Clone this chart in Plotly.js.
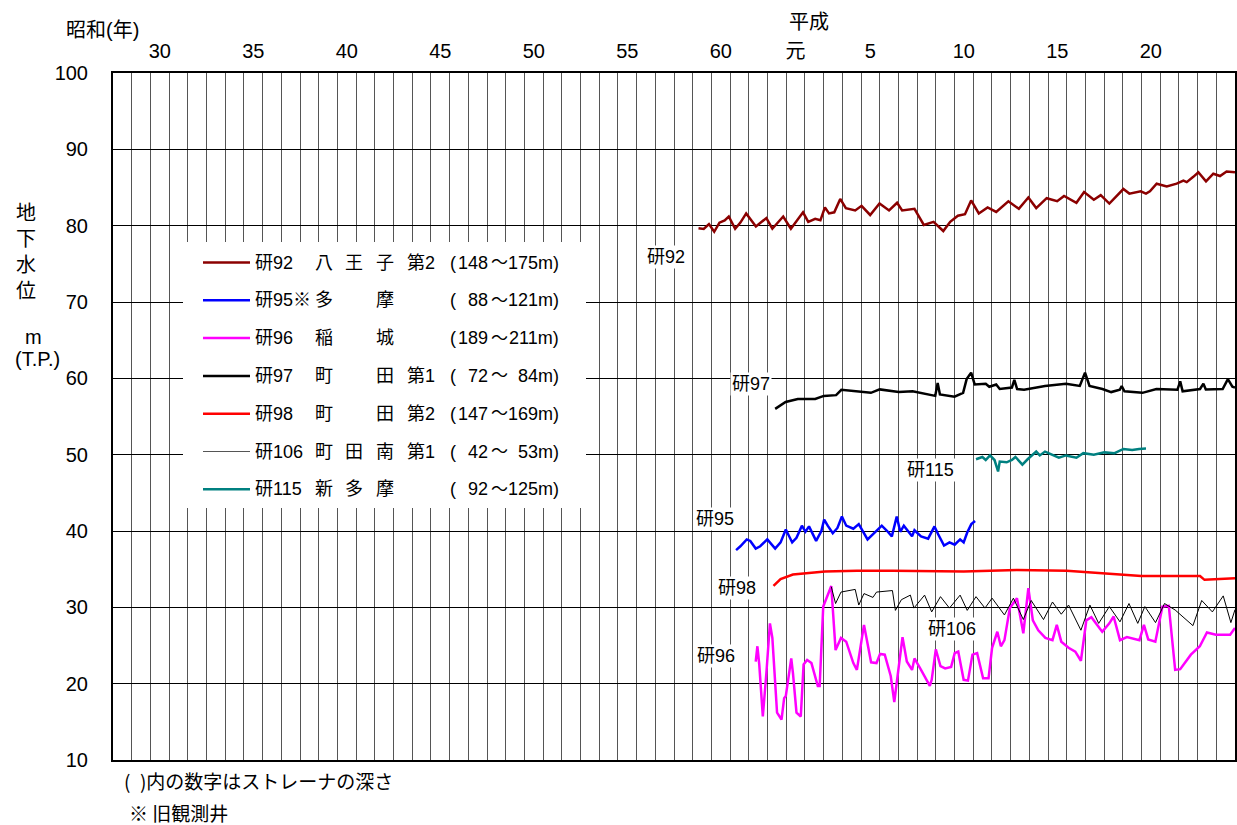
<!DOCTYPE html>
<html><head><meta charset="utf-8">
<script src="https://cdn.plot.ly/plotly-3.0.1.min.js"></script>
<style>html,body{margin:0;padding:0;background:#fff}#chart{width:1237px;height:825px}</style>
</head><body><div id="chart"></div>
<script>
// ---- tick labels (era years, label at band centre) ----
const tickYears = [1955.5,1960.5,1965.5,1970.5,1975.5,1980.5,1985.5,1989.5,1993.5,1998.5,2003.5,2008.5];
const tickText  = ['30','35','40','45','50','55','60','元','5','10','15','20'];

// ---- series data (decimal year, water level m T.P.) ----
const k92x = [1984.31,1984.59,1984.87,1985.15,1985.43,1985.71,1985.93,1986.27,1986.55,1986.86,1987.38,1987.94,1988.26,1988.84,1989.25,1989.9,1990.18,1990.55,1990.83,1991.07,1991.29,1991.57,1991.89,1992.19,1992.69,1993.03,1993.49,1993.99,1994.5,1994.93,1995.2,1995.86,1996.36,1996.88,1997.4,1997.77,1998.18,1998.56,1998.89,1999.3,1999.77,2000.23,2000.88,2001.44,2001.95,2002.37,2002.93,2003.49,2003.86,2004.52,2004.93,2005.45,2005.82,2006.28,2007.03,2007.35,2007.96,2008.24,2008.45,2008.81,2009.35,2009.88,2010.24,2010.42,2010.77,2011.04,2011.45,2011.84,2012.2,2012.55,2013.0];
const k92y = [79.65,79.56,80.2,79.2,80.4,80.7,81.2,79.6,80.4,81.6,79.9,81.0,79.6,81.2,79.6,81.75,80.5,80.9,80.7,82.4,81.6,81.75,83.5,82.3,82.0,82.6,81.4,82.9,82.0,83.0,82.0,82.2,80.1,80.5,79.3,80.5,81.3,81.5,83.3,81.6,82.4,81.8,83.2,82.2,83.7,82.3,83.6,83.2,83.9,83.0,84.4,83.4,84.0,82.9,84.8,84.2,84.5,84.2,84.5,85.5,85.15,85.5,85.9,85.7,86.4,87.0,85.8,86.8,86.5,87.1,87.0];

const k95x = [1986.32,1986.55,1986.89,1987.08,1987.37,1987.61,1987.99,1988.18,1988.41,1988.7,1988.98,1989.32,1989.55,1989.84,1990.03,1990.22,1990.6,1990.88,1991.03,1991.22,1991.49,1991.74,1991.98,1992.21,1992.59,1992.88,1993.35,1993.73,1994.11,1994.4,1994.65,1994.91,1995.1,1995.29,1995.73,1995.86,1996.21,1996.59,1996.93,1997.12,1997.44,1997.73,1998.01,1998.3,1998.49,1998.68,1998.9,1999.1];
const k95y = [37.5,38.0,38.9,38.7,37.7,38.0,38.9,38.4,37.7,38.5,40.2,38.5,39.1,40.7,39.9,40.6,38.7,40.0,41.5,40.7,39.7,40.4,41.9,40.7,40.3,40.9,38.9,39.8,40.7,40.0,39.3,41.9,39.9,40.7,39.3,40.1,39.3,39.0,40.6,39.6,38.1,38.5,38.2,38.9,38.5,39.8,40.9,41.3];

const k96x = [1987.37,1987.46,1987.56,1987.75,1987.94,1988.13,1988.26,1988.51,1988.75,1988.89,1988.98,1989.27,1989.36,1989.55,1989.78,1989.93,1990.12,1990.35,1990.69,1990.79,1990.98,1991.41,1991.64,1991.93,1992.21,1992.59,1992.78,1993.16,1993.54,1993.83,1994.02,1994.27,1994.59,1994.78,1995.22,1995.45,1995.73,1995.86,1996.21,1996.4,1996.68,1996.78,1997.0,1997.25,1997.5,1997.82,1998.01,1998.2,1998.49,1998.72,1998.96,1999.21,1999.53,1999.82,2000.01,2000.29,2000.48,2000.67,2000.96,2001.34,2001.56,2001.68,2001.95,2002.19,2002.48,2002.86,2003.24,2003.47,2003.71,2004.1,2004.46,2004.76,2005.05,2005.32,2005.9,2006.28,2006.51,2006.85,2007.22,2007.89,2008.13,2008.36,2008.74,2009.12,2009.46,2009.8,2010.07,2010.64,2011.12,2011.5,2011.98,2012.74,2013.0];
const k96y = [22.9,24.9,22.5,15.7,21.4,27.9,26.0,16.2,15.3,18.1,18.4,23.3,21.4,16.2,15.7,22.5,23.1,22.7,19.7,19.7,30.1,32.8,24.4,26.0,25.5,22.7,21.8,27.7,22.8,22.7,23.9,23.8,21.0,17.6,26.1,22.9,21.8,23.3,21.8,21.0,19.7,20.5,24.5,22.3,22.0,22.2,24.0,24.2,20.5,20.4,23.8,24.0,20.7,20.7,24.7,26.8,24.9,25.7,29.9,31.2,28.3,26.6,32.5,28.3,27.0,26.0,25.7,27.7,25.5,24.7,24.2,23.0,28.3,28.7,26.8,27.9,28.8,25.7,26.1,25.7,27.7,25.8,25.5,30.1,30.2,21.8,21.9,23.8,24.9,26.7,26.4,26.4,27.3];

const k97x = [1988.41,1988.69,1988.97,1989.62,1990.55,1991.01,1991.67,1991.95,1992.69,1993.53,1994.0,1995.02,1995.76,1996.69,1996.97,1997.1,1997.22,1998.0,1998.46,1998.65,1998.89,1999.08,1999.67,1999.86,2000.23,2000.42,2001.07,2001.2,2001.35,2001.72,2002.84,2003.96,2004.52,2004.7,2004.98,2005.22,2005.91,2006.38,2006.84,2006.94,2007.09,2008.05,2008.8,2009.92,2010.07,2010.2,2011.13,2011.31,2011.44,2012.34,2012.62,2012.86,2013.0];
const k97y = [56.0,56.4,56.9,57.3,57.3,57.7,57.8,58.5,58.3,58.1,58.55,58.2,58.3,57.8,57.7,59.4,57.9,57.6,58.1,59.9,60.75,59.2,59.3,58.9,59.2,58.6,58.8,59.8,58.6,58.5,59.0,59.3,59.1,59.0,60.75,59.0,58.6,58.2,58.5,59.0,58.3,58.1,58.6,58.5,59.6,58.3,58.6,59.3,58.55,58.6,59.9,58.9,58.8];

const k98x = [1988.32,1988.7,1989.36,1990.12,1991.07,1992.78,1994.68,1998.49,2001.34,2004.0,2006.09,2007.99,2011.13,2011.37,2013.0];
const k98y = [32.8,33.7,34.3,34.5,34.7,34.8,34.8,34.7,34.9,34.8,34.4,34.1,34.1,33.6,33.8];

const k106x = [1991.41,1991.64,1991.93,1992.69,1992.88,1993.16,1993.64,1993.83,1994.68,1994.84,1995.16,1995.64,1995.83,1996.4,1996.78,1997.25,1997.73,1998.3,1998.68,1999.15,1999.63,2000.01,2000.67,2001.15,2001.68,2002.1,2002.76,2003.24,2003.71,2004.1,2004.76,2005.24,2005.71,2006.28,2006.85,2007.33,2007.8,2008.18,2008.75,2009.23,2009.8,2010.75,2011.22,2011.79,2012.37,2012.78,2013.0];
const k106y = [32.7,30.5,32.0,32.35,30.3,31.8,31.3,32.0,32.2,29.6,31.0,31.6,29.9,31.6,29.4,31.4,29.9,31.6,29.6,31.4,29.9,31.2,29.0,31.2,28.4,30.9,28.4,30.7,29.1,30.3,27.0,30.3,27.9,30.1,28.1,30.5,27.9,30.1,28.0,30.5,29.65,27.6,30.9,29.4,31.5,28.0,29.7];

const k115x = [1999.15,1999.49,1999.67,1999.9,2000.14,2000.33,2000.42,2000.79,2001.07,2001.26,2001.63,2001.91,2002.37,2002.56,2002.84,2003.21,2003.58,2003.96,2004.52,2004.89,2005.45,2006.01,2006.56,2007.03,2007.5,2007.87,2008.24];
const k115y = [49.4,49.7,49.3,49.9,49.3,47.8,49.1,49.0,49.3,49.7,48.7,49.4,50.4,49.9,50.4,50.0,49.6,49.9,49.6,50.2,50.0,50.3,50.2,50.75,50.6,50.75,50.8];

// ---- series meta ----
const seriesNames  = ['研92','研95','研96','研97','研98','研106','研115'];
const seriesColors = ['#8b0000','#0000ff','#ff00ff','#000000','#ff0000','#000000','#008080'];
const seriesWidths = [2.5,2.5,2.5,2.5,2.5,1,2.5];
const seriesX = [k92x,k95x,k96x,k97x,k98x,k106x,k115x];
const seriesY = [k92y,k95y,k96y,k97y,k98y,k106y,k115y];

// ---- legend text columns ----
const legCode = ['研92','研95※','研96','研97','研98','研106','研115'];
const legC2   = ['八','多','稲','町','町','町','新'];
const legC3   = ['王','','','','','田','多'];
const legC4   = ['子','摩','城','田','田','南','摩'];
const legSub  = ['第2','','','第1','第2','第1',''];
const depthLo = ['148','88','189','72','147','42','92'];
const depthHi = ['175','121','211','84','169','53','125'];

// ---- in-plot series labels (year, level) ----
const lblText = ['研92','研97','研115','研95','研98','研106','研96'];
const lblX = [1982.57,1987.12,1996.69,1985.19,1986.37,1997.87,1985.24];
const lblY = [75.9,59.26,48.0,41.57,32.53,27.16,23.62];

const FONT = 'Liberation Sans, Arial, Noto Sans CJK JP, sans-serif';
const W = 1237, H = 825, L = 113, R = 2, T = 73, B = 65;
const PW = W - L - R, PH = H - T - B;
const px = v => (v - L) / PW;          // pixel x -> paper
const py = v => 1 - (v - T) / PH;      // pixel y -> paper

const traces = seriesNames.map((n, i) => ({
  type: 'scatter', mode: 'lines', name: n,
  x: seriesX[i], y: seriesY[i],
  line: {color: seriesColors[i], width: seriesWidths[i]},
  showlegend: false, hoverinfo: 'skip'
}));
// dummy trace to attach xaxis2
traces.push({type:'scatter', x:[1953], y:[null], xaxis:'x2', showlegend:false, hoverinfo:'skip'});

const shapes = [];
const annotations = [];
const txt = (text, xpx, ypx, size, anchor, family) => annotations.push({xref:'paper', yref:'paper',
  x:px(xpx), y:py(ypx), text:text, showarrow:false, xanchor:anchor || 'center', yanchor:'middle',
  borderpad:0, font:{family: family || FONT, size:size, color:'#000'}});

// legend background
shapes.push({type:'rect', xref:'paper', yref:'paper', x0:px(183), x1:px(586), y0:py(508), y1:py(242),
  fillcolor:'#ffffff', line:{width:0}, layer:'above'});
const rowY0 = 262.5, rowDY = 37.8;
legCode.forEach((c, i) => {
  const ypx = rowY0 + i*rowDY, yy = py(ypx);
  shapes.push({type:'line', xref:'paper', yref:'paper', x0:px(203), x1:px(250), y0:yy, y1:yy,
    line:{color: i===5 ? '#555555' : seriesColors[i], width: i===5 ? 1 : 2.5}, layer:'above'});
  const add = (t, xpx, anchor, size) => { if (t) txt(t, xpx, ypx, size || 18, anchor); };
  add(c, 254, 'left');
  add(legC2[i], 314, 'left');
  add(legC3[i], 344, 'left');
  add(legC4[i], 375, 'left');
  add(legSub[i], 406, 'left');
  add('(', 449, 'left');
  add(depthLo[i], 489, 'right');
  add('～', 490, 'left', 17);
  add(depthHi[i] + 'm)', 560, 'right');
});

// in-plot labels
lblText.forEach((t, i) => annotations.push({x:lblX[i], y:lblY[i], xref:'x', yref:'y', text:t, showarrow:false,
  xanchor:'center', yanchor:'middle', bgcolor:'#ffffff', borderpad:1, font:{family:FONT, size:18, color:'#000'}}));

// axis / era titles
txt('昭和(年)', 102, 30, 20);
txt('平成', 809, 22, 20);
txt('地<br>下<br>水<br>位', 26, 252, 20);
txt('m', 33, 337, 20);
txt('(T.P.)', 37, 359, 20);
txt('(\u2002)内の数字はストレーナの深さ', 123, 780, 19, 'left', 'Noto Sans CJK JP, sans-serif');
txt('※ 旧観測井', 128, 812, 19, 'left', 'Noto Sans CJK JP, sans-serif');

const layout = {
  width: W, height: H, margin: {l:L, r:R, t:T, b:B},
  paper_bgcolor:'#fff', plot_bgcolor:'#fff', showlegend:false,
  xaxis: {range:[1953,2013], tick0:1953, dtick:1, showticklabels:false, ticks:'',
    showgrid:true, gridcolor:'#555555', gridwidth:1, zeroline:false,
    showline:true, mirror:true, linecolor:'#000', linewidth:2},
  xaxis2: {overlaying:'x', side:'top', range:[1953,2013], tickmode:'array', tickvals:tickYears, ticktext:tickText,
    showgrid:false, zeroline:false, showline:false, ticks:'', ticklabelstandoff:10,
    tickfont:{family:FONT, size:20, color:'#000'}},
  yaxis: {range:[10,100], tick0:10, dtick:10, showgrid:true, gridcolor:'#000', gridwidth:1, zeroline:false,
    showline:true, mirror:true, linecolor:'#000', linewidth:2, ticks:'', ticklabelstandoff:19,
    tickfont:{family:FONT, size:20, color:'#000'}},
  shapes: shapes, annotations: annotations
};
Plotly.newPlot('chart', traces, layout, {displayModeBar:false, staticPlot:true});
</script></body></html>
